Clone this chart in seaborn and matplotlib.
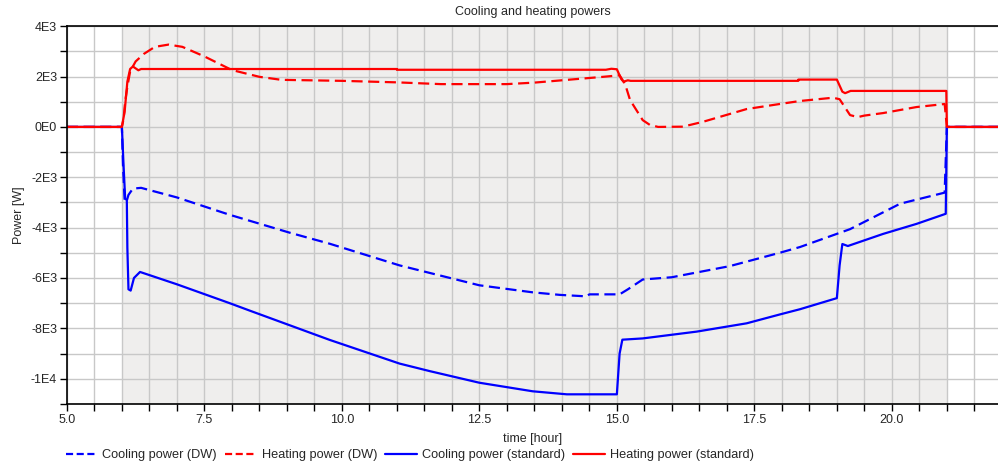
import numpy as np
import pandas as pd
import matplotlib
matplotlib.use('Agg')
import matplotlib.pyplot as plt
from matplotlib.ticker import MultipleLocator, FuncFormatter
import seaborn as sns

# time [hour] and power [W]
t_cool_dw = [5.0, 6.0, 6.02, 6.05, 6.08, 6.12, 6.2, 6.35, 7.0, 7.96, 9.05, 9.78, 11.05,
             11.6, 12.5, 13.47, 13.96, 14.45, 14.5, 15.05, 15.2, 15.47, 16.0, 17.05,
             17.96, 18.33, 19.24, 20.15, 20.96, 21.0, 22.0]
p_cool_dw = [0, 0, -1500, -2900, -3000, -2700, -2450, -2420, -2800, -3490, -4200, -4640,
             -5500, -5800, -6290, -6570, -6670, -6730, -6650, -6650, -6450, -6060, -5970,
             -5530, -5000, -4770, -4060, -3050, -2610, 0, 0]

t_heat_dw = [5.0, 6.0, 6.03, 6.06, 6.1, 6.15, 6.25, 6.4, 6.6, 6.85, 7.1, 7.5, 8.0, 8.5,
             8.9, 10.0, 11.0, 11.8, 13.0, 13.5, 14.1, 14.7, 15.05, 15.15, 15.24, 15.47,
             15.6, 15.75, 16.2, 16.56, 17.36, 17.96, 18.33, 18.93, 19.05, 19.24, 19.38,
             19.5, 19.84, 20.45, 20.96, 21.0, 22.0]
p_heat_dw = [0, 0, 300, 1000, 1600, 2200, 2600, 2900, 3180, 3270, 3180, 2800, 2260, 1990,
             1870, 1830, 1770, 1700, 1700, 1760, 1870, 1980, 2050, 1700, 1070, 270,
             80, 0, 10, 200, 710, 910, 1030, 1160, 1100, 470, 390, 450, 550, 790, 910, 0, 0]

t_cool_std = [5.0, 6.0, 6.03, 6.06, 6.09, 6.1, 6.12, 6.16, 6.22, 6.33, 7.0, 7.96, 8.33,
              9.78, 11.05, 11.6, 12.5, 13.47, 14.09, 15.0, 15.05, 15.1, 15.47, 16.45,
              17.36, 17.96, 18.33, 19.0, 19.05, 19.1, 19.2, 19.84, 20.45, 20.98, 21.0, 22.0]
p_cool_std = [0, 0, -1500, -2850, -2900, -4800, -6450, -6500, -6000, -5760, -6250, -7000,
              -7300, -8460, -9400, -9700, -10160, -10500, -10620, -10620, -9000, -8450,
              -8400, -8130, -7800, -7450, -7240, -6800, -5500, -4650, -4730, -4250, -3850,
              -3450, 0, 0]

t_heat_std = [5.0, 6.0, 6.05, 6.1, 6.15, 6.2, 6.3, 6.35, 11.0, 11.0, 14.8, 14.9, 15.0,
              15.08, 15.12, 15.2, 15.25, 18.3, 18.3, 19.0, 19.1, 19.15, 19.25, 20.99,
              21.0, 22.0]
p_heat_std = [0, 0, 600, 1800, 2300, 2400, 2250, 2300, 2300, 2270, 2270, 2310, 2290,
              1900, 1800, 1850, 1830, 1830, 1880, 1880, 1400, 1340, 1430, 1430, 0, 0]

series = [
    ("Cooling power (DW)", t_cool_dw, p_cool_dw, "#0000ff", (5, 2.5)),
    ("Heating power (DW)", t_heat_dw, p_heat_dw, "#ff0000", (5, 2.5)),
    ("Cooling power (standard)", t_cool_std, p_cool_std, "#0000ff", ""),
    ("Heating power (standard)", t_heat_std, p_heat_std, "#ff0000", ""),
]

sns.set_theme(style="white")
plt.rcParams['font.family'] = ['Liberation Sans', 'DejaVu Sans']
plt.rcParams['font.size'] = 9

fig = plt.figure(figsize=(9.98, 4.68), dpi=100)
ax = fig.add_axes([0.067, 0.137, 0.933, 0.807])

ax.axvspan(6, 21, color="#efeeed", zorder=0, lw=0)

for name, t, p, col, dash in series:
    df = pd.DataFrame({"time": t, "power": p})
    sns.lineplot(data=df, x="time", y="power", ax=ax, color=col, lw=1.6,
                 estimator=None, sort=False, label=name)
    if dash:
        ax.lines[-1].set_dashes(dash)

ax.set_xlim(5, 21.93)
ax.set_ylim(-11000, 4000)
ax.xaxis.set_major_locator(MultipleLocator(2.5))
ax.xaxis.set_minor_locator(MultipleLocator(0.5))
ax.yaxis.set_major_locator(MultipleLocator(2000))
ax.yaxis.set_minor_locator(MultipleLocator(1000))
ax.xaxis.set_major_formatter(FuncFormatter(lambda v, _: f"{v:.1f}"))


def sci(v, _):
    if abs(v) < 1e-9:
        return "0E0"
    e = int(np.floor(np.log10(abs(v)) + 1e-9))
    return f"{int(round(v / 10 ** e))}E{e}"


ax.yaxis.set_major_formatter(FuncFormatter(sci))
ax.grid(True, which="both", color="#c8c8c8", lw=1.0, zorder=1)
ax.set_axisbelow(True)
ax.tick_params(which="both", direction="out", length=5, width=1, color="black",
               bottom=True, left=True, labelsize=9, pad=2)
for s in ["left", "bottom", "top"]:
    ax.spines[s].set_color("black")
    ax.spines[s].set_linewidth(1.2)
ax.spines["right"].set_visible(False)

ax.set_title("Cooling and heating powers", fontsize=9, pad=8)
ax.set_xlabel("time [hour]", fontsize=9, labelpad=5)
ax.set_ylabel("Power [W]", fontsize=9, labelpad=4)

handles, labels = ax.get_legend_handles_labels()
ax.legend_.remove()
leg = fig.legend(handles, labels, loc="lower left", bbox_to_anchor=(0.066, 0.015), ncol=4,
                 frameon=False, fontsize=9.2, handlelength=2.45, columnspacing=0.65,
                 handletextpad=0.4, borderpad=0, borderaxespad=0)
# shorter dashes in the legend keys, like the reference
for h in leg.get_lines()[:2]:
    h.set_dashes((3.2, 1.6))

fig.savefig("out.png", dpi=100)
